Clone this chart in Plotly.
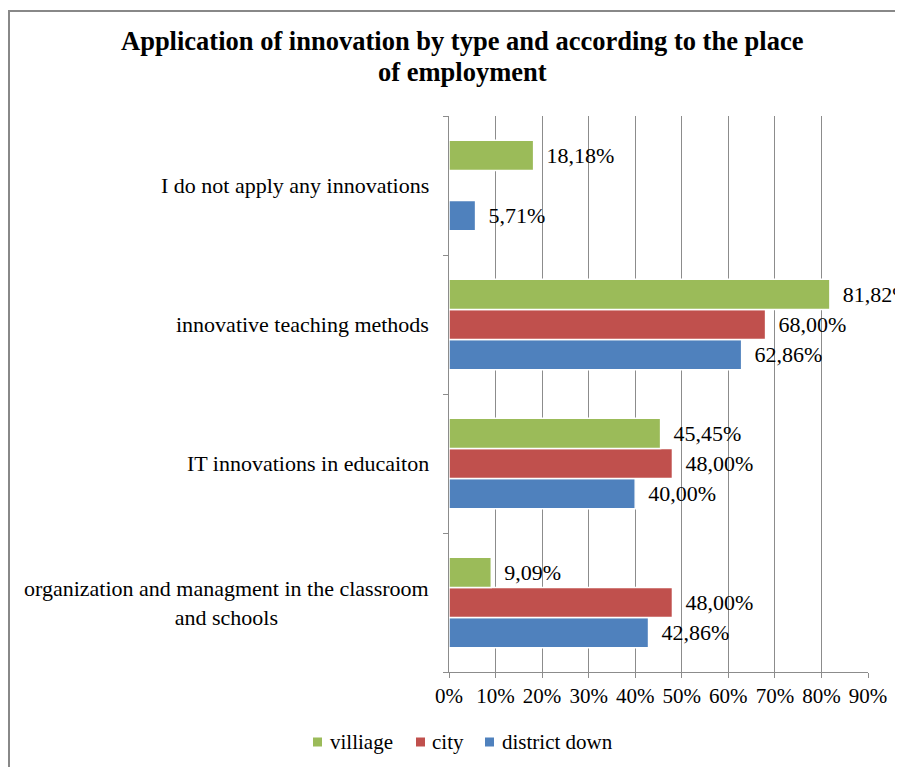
import plotly.graph_objects as go

categories = [
    "organization and managment in the classroom<br>and schools",
    "IT innovations in educaiton",
    "innovative teaching methods",
    "I do not apply any innovations",
]
district_down = [42.86, 40.00, 62.86, 5.71]
city = [48.00, 48.00, 68.00, None]
villiage = [9.09, 45.45, 81.82, 18.18]
x_ticks = [0, 10, 20, 30, 40, 50, 60, 70, 80, 90]
title_lines = ["Application of innovation by type and according to the place",
               "of employment"]

FONT = "Liberation Serif"

# plot area in page pixels (used to convert decoration positions to paper units)
PX0, PX1, PY0, PY1 = 449, 868, 116, 672


def px(x):
    return (x - PX0) / (PX1 - PX0)


def py(y):
    return (PY1 - y) / (PY1 - PY0)


def labels(vals):
    return ["" if v is None else "\u00a0\u2009" + f"{v:.2f}%".replace(".", ",") for v in vals]


series = [
    ("district down", district_down, "#4F81BD"),
    ("city", city, "#C0504D"),
    ("villiage", villiage, "#9BBB59"),
]

fig = go.Figure()
for name, vals, color in series:
    fig.add_trace(go.Bar(
        y=categories, x=vals, name=name, orientation="h",
        marker=dict(color=color, line=dict(color="white", width=1.5)),
        text=labels(vals), textposition="outside", cliponaxis=False,
        constraintext="none", showlegend=False,
        textfont=dict(family=FONT, size=22, color="black"),
    ))

# category labels (centred multi-line, right edge next to the axis)
for c in categories:
    fig.add_annotation(
        x=px(431), xref="paper", y=c, yref="y", text=c, showarrow=False,
        xanchor="right", align="center",
        font=dict(family=FONT, size=22, color="black"),
    )

# title, two lines
for line, yc in zip(title_lines, [41, 72]):
    fig.add_annotation(
        x=px(462.5), xref="paper", y=py(yc), yref="paper", text=f"<b>{line}</b>",
        showarrow=False, xanchor="center", yanchor="middle",
        font=dict(family=FONT, size=26.5, color="black"),
    )

# legend (villiage, city, district down)
legend_items = [("villiage", "#9BBB59", 313, 328),
                ("city", "#C0504D", 416, 430),
                ("district down", "#4F81BD", 485, 500)]
for name, color, sx, tx in legend_items:
    fig.add_shape(type="rect", xref="paper", yref="paper",
                  x0=px(sx), x1=px(sx + 9), y0=py(746.5), y1=py(737.5),
                  fillcolor=color, line=dict(width=0))
    fig.add_annotation(
        x=px(tx), xref="paper", y=py(742), yref="paper", text=name,
        showarrow=False, xanchor="left", yanchor="middle",
        font=dict(family=FONT, size=21, color="black"),
    )

# outer chart border
fig.add_shape(type="rect", xref="paper", yref="paper",
              x0=px(9), x1=px(1000), y0=py(900), y1=py(11),
              line=dict(color="#888888", width=2), layer="below")

fig.update_layout(
    width=895, height=759,
    margin=dict(l=PX0 - 8, r=903 - PX1, t=PY0 - 8, b=767 - PY1),
    paper_bgcolor="white", plot_bgcolor="white",
    barmode="group", bargap=0.35, bargroupgap=0,
    showlegend=False,
    xaxis=dict(
        range=[0, 90], tickvals=x_ticks,
        ticktext=[f"{t}%" for t in x_ticks],
        showgrid=True, gridcolor="#8c8c8c", gridwidth=1,
        showline=True, linecolor="#8c8c8c", linewidth=1,
        ticks="outside", ticklen=5, tickcolor="#8c8c8c",
        tickfont=dict(family=FONT, size=21, color="black"),
        zeroline=False, fixedrange=True,
    ),
    yaxis=dict(
        showticklabels=False, tickson="boundaries",
        ticks="outside", ticklen=5, tickcolor="#8c8c8c",
        showline=True, linecolor="#8c8c8c", linewidth=1,
        showgrid=False, fixedrange=True,
    ),
)

fig.write_html("out.html")
